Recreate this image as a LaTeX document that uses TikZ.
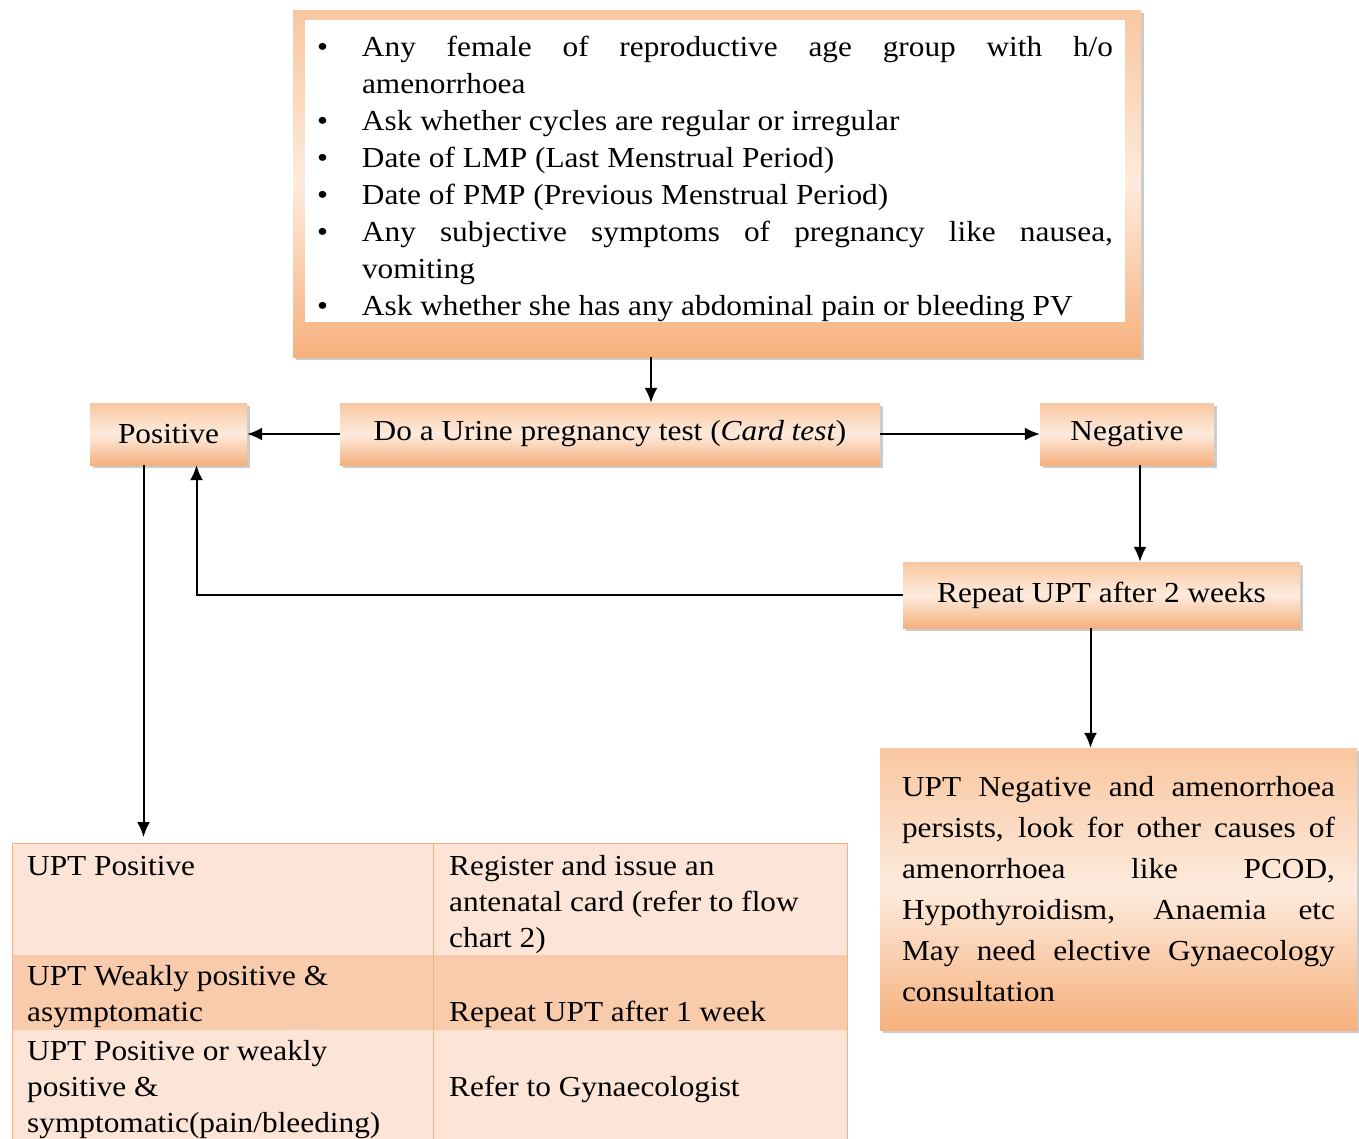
\documentclass[tikz,border=0pt]{standalone}
\usepackage{fontspec}
\setmainfont{Liberation Serif}[FakeStretch=1.08]
\usetikzlibrary{arrows.meta,shadows}
\definecolor{boxtop}{HTML}{F9C7A0}
\definecolor{boxmid}{HTML}{FDEBDD}
\definecolor{boxbot}{HTML}{F6B07C}
\definecolor{rowlight}{HTML}{FCE4D6}
\definecolor{rowdark}{HTML}{F8CBAD}
\definecolor{rowline}{HTML}{F4B183}
\newcommand{\bul}[1]{\par\hangindent=45pt\hangafter=1\noindent\makebox[45pt][l]{\textbullet}#1}

\begin{document}
\begin{tikzpicture}[x=1pt, y=-1pt,
  softbox/.style={drop shadow={shadow xshift=3pt, shadow yshift=-3pt, fill=black!40},
    top color=boxtop, bottom color=boxbot, middle color=boxmid,
    font=\fontsize{29}{37}\selectfont, inner sep=0pt},
  arr/.style={-{Latex[length=15pt,width=13pt]}, line width=2pt},
  cell/.style={anchor=north west, inner sep=0pt, align=left, font=\fontsize{29}{36}\selectfont}]
  \useasboundingbox[fill=white] (0,0) rectangle (1359,1138);
  % history box
  \node[softbox, minimum width=848, minimum height=347] (frame) at (717,183.5) {};
  \node[fill=white, inner xsep=12pt, inner ysep=0pt, minimum height=298, text width=796, align=justify,
    font=\fontsize{29}{37}\selectfont] (info) at (715,171) {%
    \bul{Any female of reproductive age group with h/o\linebreak amenorrhoea}
    \bul{Ask whether cycles are regular or irregular}
    \bul{Date of LMP (Last Menstrual Period)}
    \bul{Date of PMP (Previous Menstrual Period)}
    \bul{Any subjective symptoms of pregnancy like nausea,\linebreak vomiting}
    \bul{Ask whether she has any abdominal pain or bleeding PV}};
  % test and results
  \node[softbox, minimum width=540, minimum height=62] (test) at (610,434) {Do a Urine pregnancy test (\textit{Card test})};
  \node[softbox, minimum width=157, minimum height=62] (pos) at (168.5,434) {Positive};
  \node[softbox, minimum width=174, minimum height=62] (neg) at (1127,434) {Negative};
  \node[softbox, minimum width=397, minimum height=66] (rep) at (1101.5,595) {Repeat UPT after 2 weeks};
  \node[softbox, minimum width=477, minimum height=282, text width=433, inner xsep=22pt, align=justify,
    font=\fontsize{29}{41}\selectfont] (note) at (1118.5,889) {\noindent
    UPT Negative and amenorrhoea\linebreak persists, look for other causes of\linebreak
    amenorrhoea like PCOD,\linebreak Hypothyroidism, Anaemia etc\linebreak
    May need elective Gynaecology\linebreak consultation};
  % table
  \foreach \ya/\yb/\c in {843/955/rowlight, 955/1030/rowdark, 1030/1150/rowlight}
    \fill[\c] (12,\ya) rectangle (847,\yb);
  \draw[rowline, line width=1pt] (12,843) rectangle (847,1150) (433,843) -- (433,1150);
  \coordinate (tbltop) at (143.5,843);
  \node[cell] (c11) at (27,850) {\strut UPT Positive};
  \node[cell] (c12) at (449,850) {\strut Register and issue an\\antenatal card (refer to flow\\chart 2)};
  \node[cell] (c21) at (27,960) {\strut UPT Weakly positive \&\\asymptomatic};
  \node[cell] (c22) at (449,996) {\strut Repeat UPT after 1 week};
  \node[cell] (c31) at (27,1035) {\strut UPT Positive or weakly\\positive \&\\symptomatic(pain/bleeding)};
  \node[cell] (c32) at (449,1071) {\strut Refer to Gynaecologist};
  % connectors
  \draw[arr] ([xshift=-66pt]frame.south) -- ([xshift=-66pt]frame.south |- test.north);
  \draw[arr] (test.west) -- (pos.east);
  \draw[arr] (test.east) -- (neg.west);
  \draw[arr] ([xshift=13pt]neg.south) -- ([xshift=13pt]neg.south |- rep.north);
  \draw[arr] (rep.west) -| ([xshift=28pt]pos.south);
  \draw[arr, shorten >=6pt] ([xshift=-25pt]pos.south) -- (tbltop);
  \draw[arr] ([xshift=-11pt]rep.south) -- ([xshift=-11pt]rep.south |- note.north);
\end{tikzpicture}
\end{document}
